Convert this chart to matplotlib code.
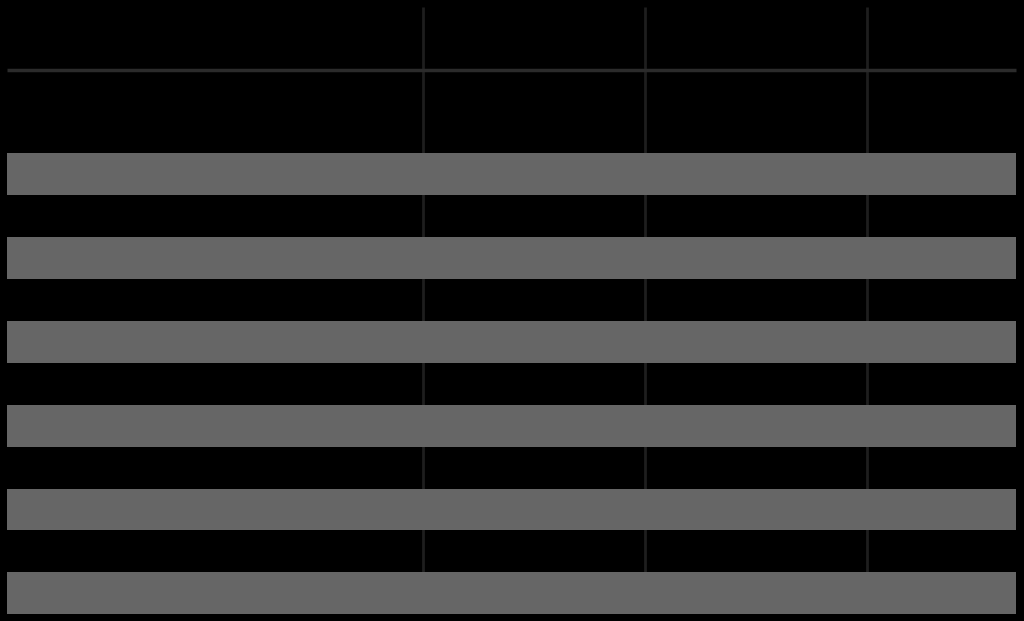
import matplotlib
matplotlib.use("Agg")
import matplotlib.pyplot as plt

# six rows, every bar full length
rows = [0, 1, 2, 3, 4, 5]
values = [100, 100, 100, 100, 100, 100]
grid_at = [41.2, 63.2, 85.2]

fig = plt.figure(figsize=(10.24, 6.21), dpi=100, facecolor="black")
ax = fig.add_axes([0, 0, 1, 1])
ax.set_facecolor("black")

ax.set_xlim(-0.69, 100.79)
ax.set_ylim(5.33, -2.08)

# vertical grid behind bars, stops under the last bar
ax.vlines(grid_at, -2.0, 5.0, color="#1e1e1e", linewidth=2, zorder=1)
# divider line near the top
ax.hlines(-1.24, 0, 100, color="#2b2b2b", linewidth=2.5, zorder=1)

ax.barh(rows, values, height=0.5, color="#666666", zorder=2)

for s in ax.spines.values():
    s.set_visible(False)
ax.set_xticks([])
ax.set_yticks([])

fig.savefig("out.png", dpi=100, facecolor="black")
